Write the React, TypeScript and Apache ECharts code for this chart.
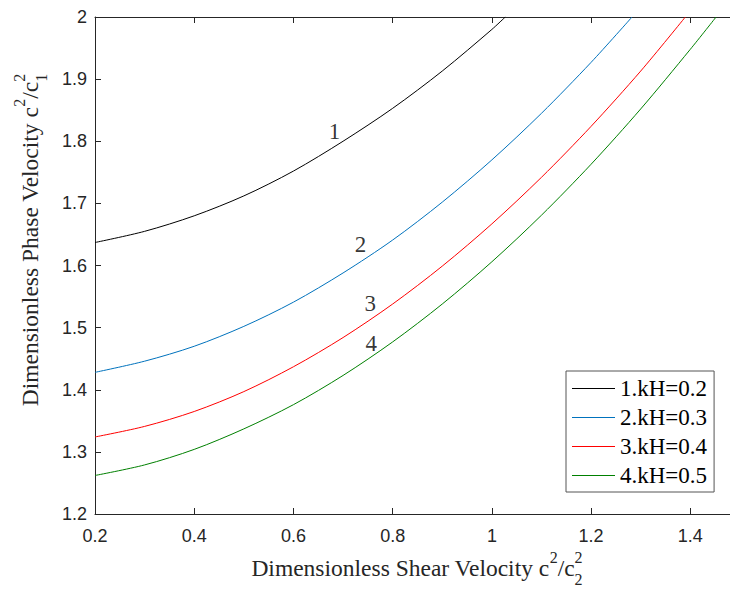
import React, { useEffect, useRef } from "react";
import * as echarts from "echarts";

// ---- data ----
const curve1X = [0.2, 0.3, 0.4, 0.5, 0.6, 0.7, 0.8, 0.9, 1.0, 1.027];
const curve1Y = [1.637, 1.655, 1.68, 1.712, 1.752, 1.8, 1.853, 1.913, 1.98, 2.0];

const curve2X = [0.2, 0.3, 0.4, 0.5, 0.6, 0.7, 0.8, 0.9, 1.0, 1.1, 1.2, 1.2825];
const curve2Y = [1.428, 1.446, 1.47, 1.502, 1.541, 1.588, 1.641, 1.702, 1.77, 1.845, 1.927, 2.0];

const curve3X = [0.2, 0.3, 0.4, 0.5, 0.6, 0.7, 0.8, 0.9, 1.0, 1.1, 1.2, 1.3, 1.39];
const curve3Y = [1.324, 1.341, 1.365, 1.397, 1.437, 1.484, 1.538, 1.599, 1.667, 1.742, 1.824, 1.913, 2.0];

const curve4X = [0.2, 0.3, 0.4, 0.5, 0.6, 0.7, 0.8, 0.9, 1.0, 1.1, 1.2, 1.3, 1.4, 1.452];
const curve4Y = [1.262, 1.279, 1.304, 1.337, 1.376, 1.423, 1.477, 1.538, 1.606, 1.681, 1.763, 1.852, 1.948, 2.0];

const seriesNames = ["1.kH=0.2", "2.kH=0.3", "3.kH=0.4", "4.kH=0.5"];
const seriesColors = ["#000000", "#0072BD", "#FF0000", "#008000"];

const curveLabels = ["1", "2", "3", "4"];
const curveLabelX = [0.683, 0.735, 0.755, 0.757];
const curveLabelY = [1.816, 1.633, 1.539, 1.475];

const xMin = 0.2;
const xMax = 1.48;
const xStep = 0.2;
const yMin = 1.2;
const yMax = 2;
const yStep = 0.1;

const xTitleMain = "Dimensionless Shear Velocity c";
const xTitleSub = "2";
const yTitleMain = "Dimensionless Phase Velocity c";
const yTitleSub = "1";

const SERIF = "Liberation Serif, Times New Roman, serif";
const SANS = "Liberation Sans, Arial, sans-serif";
const TEXT_COLOR = "#262626";

function measure(text: string, size: number, family: string) {
  const ctx = document.createElement("canvas").getContext("2d")!;
  ctx.font = `${size}px ${family}`;
  return ctx.measureText(text).width;
}

// builds c^2/c_k^2 style title pieces on a baseline at local y=0
function titleChildren(main: string, sub: string) {
  const big = 23.5;
  const small = 16;
  const supShift = -13.5;
  const subShift = 9;
  const mid = (size: number) => -0.3375 * size;
  const pieces: any[] = [];
  let x = 0;
  const add = (text: string, size: number, shift: number, advance: boolean) => {
    pieces.push({
      type: "text",
      x,
      y: shift + mid(size),
      style: {
        text,
        fontSize: size,
        fontFamily: SERIF,
        fill: TEXT_COLOR,
        textAlign: "left",
        textVerticalAlign: "middle",
      },
    });
    const w = measure(text, size, SERIF);
    if (advance) x += w;
    return w;
  };
  add(main, big, 0, true);
  add("2", small, supShift, true);
  add("/c", big, 0, true);
  add(sub, small, subShift, false);
  add("2", small, supShift, true);
  return { pieces, width: x };
}

export default function App() {
  const ref = useRef<HTMLDivElement>(null);

  useEffect(() => {
    if (!ref.current) return;
    const chart = echarts.init(ref.current, undefined, { renderer: "svg" });

    const curvesX = [curve1X, curve2X, curve3X, curve4X];
    const curvesY = [curve1Y, curve2Y, curve3Y, curve4Y];

    const lineSeries = seriesNames.map((name, i) => ({
      name,
      type: "line",
      xAxisIndex: 0,
      yAxisIndex: 0,
      data: curvesX[i].map((x, j) => [x, curvesY[i][j]]),
      smooth: 0.3,
      symbol: "none",
      showSymbol: false,
      clip: true,
      lineStyle: { color: seriesColors[i], width: 1 },
      itemStyle: { color: seriesColors[i] },
    }));

    const labelSeries = {
      name: "labels",
      type: "scatter",
      xAxisIndex: 0,
      yAxisIndex: 0,
      silent: true,
      symbolSize: 1,
      itemStyle: { color: "rgba(0,0,0,0)" },
      data: curveLabels.map((t, i) => ({
        value: [curveLabelX[i], curveLabelY[i]],
        label: {
          show: true,
          formatter: t,
          position: "inside",
          fontFamily: SERIF,
          fontSize: 23,
          color: "#000",
        },
      })),
    };

    const xt = titleChildren(xTitleMain, xTitleSub);
    const yt = titleChildren(yTitleMain, yTitleSub);

    const axisLineStyle = { color: TEXT_COLOR, width: 1 };

    chart.setOption({
      animation: false,
      backgroundColor: "#ffffff",
      grid: { left: 95, right: 0, top: 17, bottom: 76, containLabel: false },
      legend: {
        data: seriesNames,
        orient: "vertical",
        left: 566,
        top: 371,
        padding: [6, 7, 5, 6],
        itemGap: 6,
        itemWidth: 43,
        itemHeight: 1,
        icon: "rect",
        backgroundColor: "#ffffff",
        borderColor: "#555555",
        borderWidth: 1,
        textStyle: { fontFamily: SERIF, fontSize: 23, lineHeight: 23, color: "#000" },
      },
      xAxis: [
        {
          type: "value",
          position: "bottom",
          min: xMin,
          max: xMax,
          interval: xStep,
          axisLine: { show: true, lineStyle: axisLineStyle },
          axisTick: { show: true, inside: true, length: 6, lineStyle: axisLineStyle },
          axisLabel: {
            show: true,
            showMaxLabel: false,
            margin: 13,
            fontFamily: SANS,
            fontSize: 18,
            color: TEXT_COLOR,
          },
          splitLine: { show: false },
        },
        {
          type: "value",
          position: "top",
          min: xMin,
          max: xMax,
          interval: xStep,
          axisLine: { show: true, lineStyle: axisLineStyle },
          axisTick: { show: true, inside: true, length: 6, lineStyle: axisLineStyle },
          axisLabel: { show: false },
          splitLine: { show: false },
        },
      ],
      yAxis: [
        {
          type: "value",
          min: yMin,
          max: yMax,
          interval: yStep,
          axisLine: { show: true, lineStyle: axisLineStyle },
          axisTick: { show: true, inside: true, length: 6, lineStyle: axisLineStyle },
          axisLabel: {
            show: true,
            margin: 8,
            fontFamily: SANS,
            fontSize: 18,
            color: TEXT_COLOR,
          },
          splitLine: { show: false },
        },
      ],
      graphic: [
        {
          type: "group",
          x: 417 - xt.width / 2,
          y: 576,
          children: xt.pieces,
        },
        {
          type: "group",
          x: 38,
          y: 240 + yt.width / 2,
          rotation: Math.PI / 2,
          children: yt.pieces,
        },
      ],
      series: [...lineSeries, labelSeries],
    });

    return () => chart.dispose();
  }, []);

  return (
    <div
      ref={ref}
      style={{ position: "absolute", left: 0, top: 0, width: 730, height: 590 }}
    />
  );
}
